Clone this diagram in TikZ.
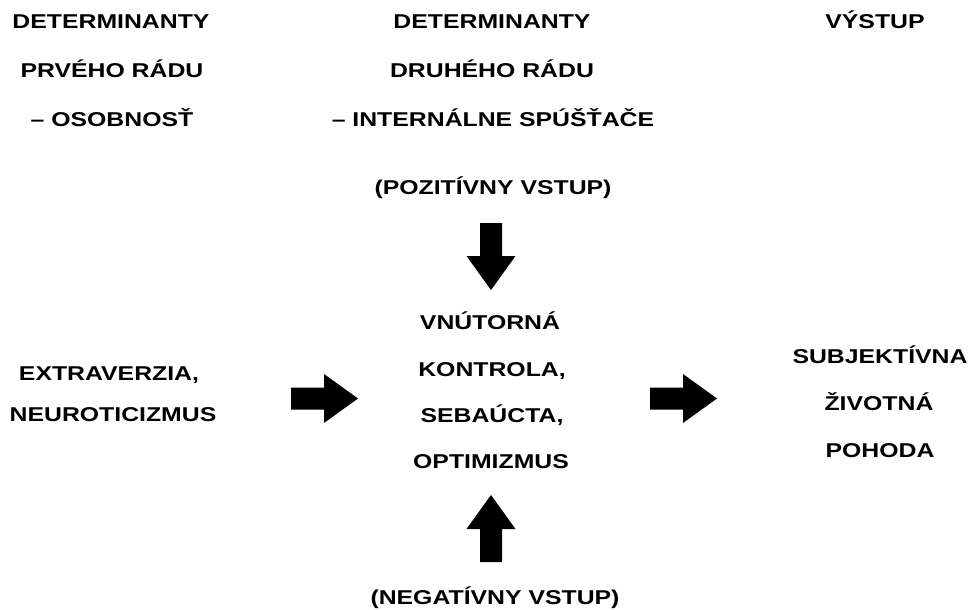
\documentclass[tikz,border=0pt]{standalone}
\usepackage{fontspec}
\newfontfamily\labfont{Liberation Sans}[FakeStretch=1.24]
\begin{document}
\begin{tikzpicture}[x=1pt,y=-1pt,
  lab/.style={font=\labfont\bfseries\fontsize{20}{24}\selectfont,
    inner sep=0pt, text height=14.3pt, text depth=0pt},
  blockarrow/.pic={
    \fill[black] (0,-11) -- (33,-11) -- (33,-24.5) -- (67,0)
      -- (33,24.5) -- (33,11) -- (0,11) -- cycle;}]
  \fill[white] (0,0) rectangle (969,610);
  \useasboundingbox (0,0) rectangle (969,610);

  % column headings
  \node[lab] (h1a) at (111,21.5) {DETERMINANTY};
  \node[lab] (h1b) at (112,70)   {PRVÉHO RÁDU};
  \node[lab] (h1c) at (112,119)  {– OSOBNOSŤ};
  \node[lab] (h2a) at (492,21.5) {DETERMINANTY};
  \node[lab] (h2b) at (492,70)   {DRUHÉHO RÁDU};
  \node[lab] (h2c) at (493,119)  {– INTERNÁLNE SPÚŠŤAČE};
  \node[lab] (h3)  at (875,21.5) {VÝSTUP};

  % inputs
  \node[lab] (pos) at (493,187) {(POZITÍVNY VSTUP)};
  \node[lab] (neg) at (495,597) {(NEGATÍVNY VSTUP)};

  % first order determinants
  \node[lab] (e1) at (109,373) {EXTRAVERZIA,};
  \node[lab] (e2) at (113,414) {NEUROTICIZMUS};

  % internal triggers
  \node[lab] (m1) at (490,322) {VNÚTORNÁ};
  \node[lab] (m2) at (492,369) {KONTROLA,};
  \node[lab] (m3) at (492,415) {SEBAÚCTA,};
  \node[lab] (m4) at (491,461) {OPTIMIZMUS};

  % output
  \node[lab] (o1) at (880,356) {SUBJEKTÍVNA};
  \node[lab] (o2) at (879,403) {ŽIVOTNÁ};
  \node[lab] (o3) at (880,450) {POHODA};

  % block arrows
  \pic at (291,398.5) {blockarrow};
  \pic at (650,398.5) {blockarrow};
  \pic[rotate=-90] at (491,223) {blockarrow};
  \pic[rotate=90]  at (491,562) {blockarrow};
\end{tikzpicture}
\end{document}
